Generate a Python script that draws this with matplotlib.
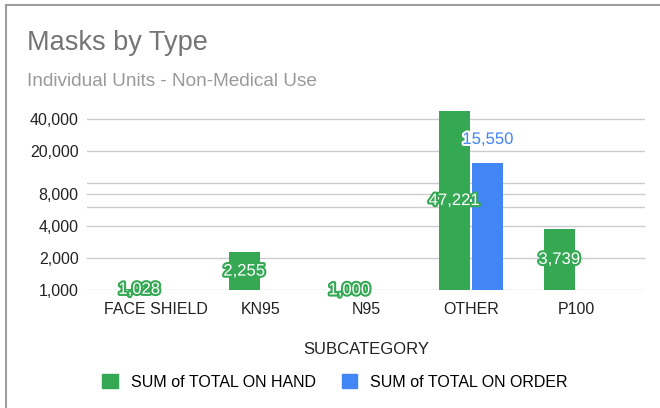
import matplotlib.pyplot as plt
import matplotlib.patheffects as pe
from matplotlib.lines import Line2D
from matplotlib.ticker import FixedLocator, NullLocator
import numpy as np

categories = ["FACE SHIELD", "KN95", "N95", "OTHER", "P100"]
on_hand = [1028, 2255, 1000, 47221, 3739]
on_order = [None, None, None, 15550, None]
tick_vals = [1000, 2000, 4000, 8000, 20000, 40000]
tick_labels = ["1,000", "2,000", "4,000", "8,000", "20,000", "40,000"]
extra_grid = [6000, 10000]

green = "#34A853"
blue = "#4285F4"

plt.rcParams['font.family'] = ['Liberation Sans', 'DejaVu Sans']

fig = plt.figure(figsize=(6.6, 4.08), dpi=100)
ax = fig.add_axes([87/660, 1 - 290/408, (645-87)/660, (290-108)/408])

x = np.arange(len(categories))
w = 0.295
off = 0.16

ax.bar(x - off, [v - 1000 for v in on_hand], width=w, bottom=1000, color=green)
ax.bar([x[i] + off for i in range(len(x)) if on_order[i]],
       [v - 1000 for v in on_order if v], width=w, bottom=1000, color=blue)

ax.set_yscale("log")
ax.set_ylim(1000, 50500)
ax.set_xlim(-0.657, 4.657)
ax.yaxis.set_major_locator(FixedLocator(tick_vals + extra_grid))
ax.yaxis.set_minor_locator(NullLocator())
ax.set_yticks(tick_vals + extra_grid)
ax.set_yticklabels(tick_labels + ["", ""])
ax.set_xticks(x)
ax.set_xticklabels(categories)
ax.tick_params(axis="both", length=0, labelsize=11.5, colors="#222222")
ax.tick_params(axis="y", pad=6)
ax.tick_params(axis="x", pad=9)
ax.grid(axis="y", color="#cccccc", linewidth=1)
ax.set_axisbelow(True)
for s in ax.spines.values():
    s.set_visible(False)

# data labels
for i, v in enumerate(on_hand):
    y = np.sqrt(1000 * v)
    ax.text(x[i] - off, y, f"{v:,}", ha="center", va="center", fontsize=12,
            color="white", path_effects=[pe.withStroke(linewidth=3, foreground=green)])
for i, v in enumerate(on_order):
    if v:
        ax.text(x[i] + off, v * 1.65, f"{v:,}", ha="center", va="center", fontsize=12,
                color=blue, path_effects=[pe.withStroke(linewidth=3, foreground="white")])

fig.text(27/660, 1 - 43/408, "Masks by Type", fontsize=19.5, color="#757575", va="center")
fig.text(27/660, 1 - 82/408, "Individual Units - Non-Medical Use", fontsize=13.7,
         color="#999999", va="center")
fig.text(366/660, 1 - 350/408, "SUBCATEGORY", fontsize=12, color="#222222",
         ha="center", va="center")

handles = [plt.Rectangle((0, 0), 1, 1, color=green), plt.Rectangle((0, 0), 1, 1, color=blue)]
fig.legend(handles, ["SUM of TOTAL ON HAND", "SUM of TOTAL ON ORDER"], ncol=2,
           loc="center", bbox_to_anchor=(335/660, 1 - 382/408), frameon=False,
           fontsize=11.5, handlelength=1.0, handleheight=1.0, columnspacing=1.6,
           handletextpad=0.8)

fig.add_artist(Line2D([6/660, 1], [1 - 5/408, 1 - 5/408], color="#9e9e9e", linewidth=1.5))
fig.add_artist(Line2D([6/660, 6/660], [0, 1 - 5/408], color="#9e9e9e", linewidth=1.5))

fig.savefig("out.png", dpi=100)
